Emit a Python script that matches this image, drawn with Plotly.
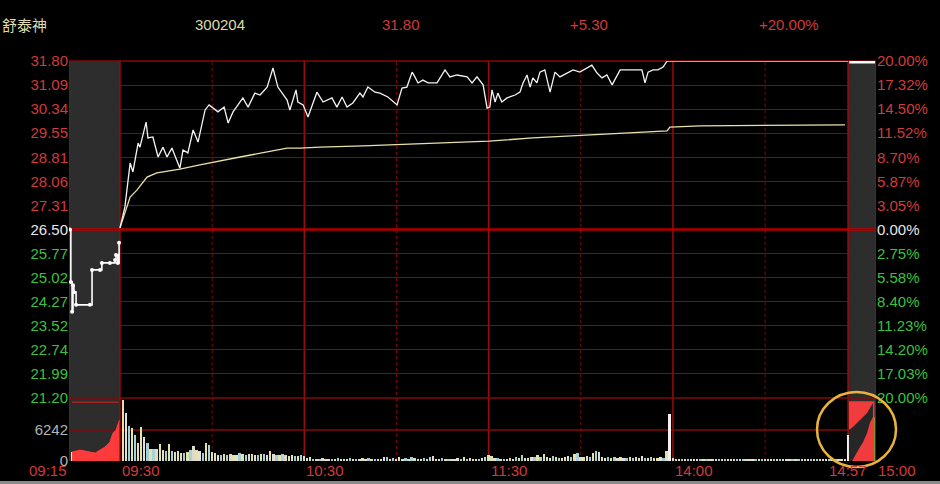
import plotly.graph_objects as go
import numpy as np

# ---------------- data ----------------
stock_name = "舒泰神"
stock_code = "300204"
last_price = "31.80"
price_change = "+5.30"
pct_change = "+20.00%"

prev_close = 26.50
price_top = 31.80
price_bottom = 21.20

price_labels = ["31.80", "31.09", "30.34", "29.55", "28.81", "28.06", "27.31", "26.50",
                "25.77", "25.02", "24.27", "23.52", "22.74", "21.99", "21.20"]
pct_labels = ["20.00%", "17.32%", "14.50%", "11.52%", "8.70%", "5.87%", "3.05%", "0.00%",
              "2.75%", "5.58%", "8.40%", "11.23%", "14.20%", "17.03%", "20.00%"]
vol_label_value = 6242

# time axis: minutes of continuous trading after 09:30; call auction (09:15-09:25)
# sits left of 0, closing auction (14:57-15:00) right of 237
time_labels = ["09:15", "09:30", "10:30", "11:30", "14:00", "14:57", "15:00"]
time_label_pos = [-16.6, 0, 60, 120, 180, 237, 246.1]
solid_lines_t = [-16.6, 0, 60, 120, 180, 237, 246.1]
dotted_lines_t = [30, 90, 150, 210]

# opening call auction price
pre_t = [-16.3, -16.0, -15.6, -15.3, -15.0, -14.3, -9.8, -9.1, -6.5, -5.9, -3.3, -1.6, -1.3, -0.7, -0.3]
pre_price = [26.50, 24.85, 23.91, 24.75, 24.53, 24.13, 24.13, 25.23, 25.23, 25.45, 25.45, 25.54, 25.70, 25.45, 26.08]

# opening auction volume area
pre_vol_t = [-15.6, -13.0, -9.8, -8.1, -6.5, -4.9, -3.3, -2.3, -1.3, -0.7, -0.2]
pre_vol = [1800, 2200, 1800, 1600, 2200, 2800, 3800, 5600, 6200, 7600, 8200]
pre_unmatched_t = [-15.6, -0.5]
pre_unmatched = [11860, 11860]

# intraday price
price_t = [0, 1.6, 3.3, 4.2, 5.9, 6.5, 8.5, 9.1, 10.7, 12.4, 14.0, 15.3, 16.9, 18.2, 19.5, 20.5,
           22.1, 23.8, 25.4, 27.7, 29.0, 31.9, 33.9, 35.2, 36.8, 40.0, 41.7, 43.9, 45.6, 47.9,
           49.8, 51.4, 54.4, 55.3, 57.3, 57.9, 59.6, 61.2, 64.1, 66.1, 69.0, 70.6, 72.3, 73.9,
           75.8, 78.1, 79.1, 80.7, 83.0, 84.6, 87.2, 90.2, 91.8, 93.4, 95.1, 96.0, 97.0, 98.6,
           100.3, 103.2, 105.8, 107.4, 109.7, 113.0, 114.6, 116.2, 118.2, 119.5, 120.4, 121.1,
           122.1, 123.0, 124.3, 126.0, 128.6, 130.2, 131.2, 132.5, 133.5, 134.4, 135.7, 136.7,
           138.3, 140.0, 141.6, 143.2, 145.5, 147.5, 149.7, 152.0, 153.6, 155.3, 156.9, 158.5,
           160.2, 162.8, 166.0, 169.9, 170.9, 171.9, 173.5, 175.1, 176.8, 178.1]
price = [26.55, 27.21, 28.59, 28.31, 29.22, 29.09, 29.88, 29.38, 29.41, 28.78, 29.09, 28.78,
         29.06, 28.75, 28.43, 29.00, 28.91, 29.63, 29.25, 30.26, 30.42, 30.20, 30.35, 29.85,
         30.20, 30.64, 30.35, 30.79, 30.73, 30.98, 31.58, 30.98, 30.57, 30.26, 30.89, 30.51,
         30.42, 30.04, 30.82, 30.51, 30.64, 30.35, 30.67, 30.35, 30.48, 30.79, 30.67, 30.98,
         30.82, 30.79, 30.67, 30.42, 30.95, 30.98, 31.45, 31.30, 31.11, 31.20, 31.11, 31.11,
         31.52, 31.30, 31.36, 31.30, 31.11, 31.30, 31.05, 30.32, 30.35, 30.89, 30.51, 30.79,
         30.51, 30.64, 30.73, 30.82, 31.11, 31.36, 30.98, 31.27, 31.11, 31.45, 31.52, 30.82,
         31.45, 31.30, 31.42, 31.52, 31.45, 31.58, 31.67, 31.42, 31.27, 31.36, 31.05, 31.52,
         31.52, 31.52, 31.11, 31.45, 31.52, 31.52, 31.61, 31.80]
limit_t = [178.1, 237.0]
limit_price = [31.80, 31.80]
close_auction_t = [237.4, 245.8]
close_auction_price = [31.80, 31.80]

# average price
avg_t = [0, 3.3, 5.5, 8.8, 12.0, 19.5, 26.0, 30.3, 39.1, 47.9, 54.4, 58.6, 65.1, 79.1, 101.9,
         120.1, 134.4, 150.7, 167.0, 178.1, 179.0, 188.8, 236.0]
avg_price = [26.55, 27.52, 27.74, 28.15, 28.28, 28.40, 28.53, 28.62, 28.78, 28.94, 29.06, 29.06,
             29.09, 29.13, 29.22, 29.28, 29.38, 29.47, 29.54, 29.60, 29.72, 29.76, 29.79]

# per-minute volume 09:31 .. 14:57
volume = [12300, 9600, 7000, 6600, 5300, 3600, 6800, 4900, 3700, 2500, 2500, 2500, 3400, 2200, 2000,
          3500, 2000, 1800, 2000, 1700, 1600, 1800, 2200, 3000, 2200, 2000, 1600, 3600, 3200, 1800,
          1600, 1200, 1200, 1400, 1200, 1400, 1300, 1200, 1600, 1400, 1200, 1400, 1500, 1200, 1300,
          1400, 1500, 1300, 2000, 1400, 1300, 1200, 1400, 1300, 1100, 1200, 1000, 1100, 1200, 1000,
          600, 900, 500, 400, 500, 700, 400, 500, 400, 500, 600, 400, 500, 400, 600,
          500, 400, 500, 700, 400, 600, 500, 400, 300, 500, 800, 900, 500, 600, 400,
          800, 500, 600, 400, 900, 600, 500, 400, 700, 500, 900, 1000, 500, 400, 600,
          500, 400, 300, 500, 600, 400, 800, 500, 600, 400, 300, 500, 700, 900, 1200,
          1100, 700, 600, 500, 400, 500, 600, 500, 900, 700, 1300, 600, 700, 900, 800,
          1200, 900, 1400, 800, 700, 1000, 900, 600, 700, 900, 1000, 800, 1500, 1700, 900,
          800, 1000, 900, 1600, 2000, 1800, 900, 700, 800, 600, 900, 700, 800, 600, 700,
          900, 600, 800, 700, 1000, 700, 600, 800, 700, 600, 900, 700, 2000, 9400, 600,
          400, 500, 300, 400, 300, 500, 300, 400, 300, 300, 400, 300, 300, 400, 300,
          300, 400, 300, 300, 300, 400, 300, 300, 300, 400, 300, 300, 300, 300, 400,
          300, 300, 300, 400, 300, 300, 300, 300, 300, 400, 300, 300, 300, 300, 300,
          300, 400, 300, 300, 300, 300, 400, 300, 300, 300, 300, 5200]
white_bar_idx = [178, 236]
pre_bar_t = [-15.6]
pre_bar_vol = [1800]

# closing auction volume block
ca_box_t = [237.3, 245.6, 245.6, 237.3, 237.3]
ca_box_vol = [0, 0, 12060, 12060, 0]
ca_dark_t = [237.3, 238.6, 239.9, 240.9, 241.9, 243.2, 244.1, 245.1,
             245.1, 244.1, 243.2, 241.9, 240.9, 239.9, 238.3, 237.3]
ca_dark_vol = [6230, 6830, 7640, 8240, 8840, 9650, 10650, 11660,
               8840, 7640, 5630, 3820, 2810, 1610, 0, 0]
ca_green_t = [245.4]
ca_green_vol = [8840]

# ---------------- styling ----------------
FONT = "Liberation Sans, Arial, sans-serif"
RED = "#d23a3a"
GREEN = "#3cc03c"
WHITE = "#e8e8e8"
GRID = "#820a0a"
BAND = "#2d2d2d"

x_min, x_max = -16.6, 246.1
tickvals = list(np.linspace(price_bottom, price_top, len(price_labels)))[::-1]


def colored(labels, mid_color):
    out = []
    n = len(labels)
    for i, t in enumerate(labels):
        if i < n // 2:
            c = RED
        elif i == n // 2:
            c = mid_color
        else:
            c = GREEN
        out.append(f"<span style='color:{c}'>{t}</span>")
    return out


palette = ["#e6e2a6", "#e0e0d8", "#9fcfd6", "#e6e2a6", "#a6d2d8", "#dcdcc8"]
bar_colors = [palette[i % len(palette)] for i in range(len(volume))]
for i in white_bar_idx:
    bar_colors[i] = "#f2f2f2"
vol_t = [i + 1 for i in range(len(volume))]

fig = go.Figure()

# volume panel
fig.add_trace(go.Scatter(x=pre_vol_t, y=pre_vol, yaxis="y2", mode="lines", fill="tozeroy",
                         line=dict(color="#ff3a3a", width=1), fillcolor="#ff3a3a", hoverinfo="skip"))
fig.add_trace(go.Scatter(x=pre_unmatched_t, y=pre_unmatched, yaxis="y2", mode="lines",
                         line=dict(color="#c81e1e", width=1.2), hoverinfo="skip"))
fig.add_trace(go.Bar(x=pre_bar_t, y=pre_bar_vol, yaxis="y2", width=0.6,
                     marker=dict(color="#eeeab0", line=dict(width=0))))
fig.add_trace(go.Bar(x=vol_t, y=volume, yaxis="y2", width=0.6,
                     marker=dict(color=bar_colors, line=dict(width=0))))
fig.add_trace(go.Scatter(x=ca_box_t, y=ca_box_vol, yaxis="y2", mode="lines", fill="toself",
                         line=dict(width=0, color="#f03c3c"), fillcolor="#f03c3c", hoverinfo="skip"))
fig.add_trace(go.Scatter(x=ca_dark_t, y=ca_dark_vol, yaxis="y2", mode="lines", fill="toself",
                         line=dict(width=0, color="#262626"), fillcolor="#262626", hoverinfo="skip"))
fig.add_trace(go.Bar(x=ca_green_t, y=ca_green_vol, yaxis="y2", width=0.9,
                     marker=dict(color="#22e022", line=dict(width=0))))

# price panel
fig.add_trace(go.Scatter(x=avg_t, y=avg_price, mode="lines",
                         line=dict(color="#e8e0a8", width=1.3), hoverinfo="skip"))
fig.add_trace(go.Scatter(x=price_t, y=price, mode="lines",
                         line=dict(color="#f4f4f4", width=1.3), hoverinfo="skip"))
fig.add_trace(go.Scatter(x=limit_t, y=limit_price, mode="lines",
                         line=dict(color="#f2c8c8", width=1.6), hoverinfo="skip"))
fig.add_trace(go.Scatter(x=close_auction_t, y=close_auction_price, mode="lines",
                         line=dict(color="#ffffff", width=5), hoverinfo="skip"))
fig.add_trace(go.Scatter(x=pre_t, y=pre_price, mode="lines+markers",
                         line=dict(color="#ffffff", width=1.6, shape="hv"),
                         marker=dict(color="#ffffff", size=4), hoverinfo="skip"))

shapes = []
# auction gray bands
for a, b in [(x_min, 0), (237, x_max)]:
    shapes.append(dict(type="rect", xref="x", yref="paper", x0=a, x1=b, y0=0, y1=1,
                       fillcolor=BAND, line=dict(width=0), layer="below"))
# vertical time lines
for t in solid_lines_t:
    shapes.append(dict(type="line", xref="x", yref="paper", x0=t, x1=t, y0=0, y1=1,
                       line=dict(color="#9a0c0c", width=1.5), layer="below"))
for t in dotted_lines_t:
    shapes.append(dict(type="line", xref="x", yref="paper", x0=t, x1=t, y0=0, y1=1,
                       line=dict(color="#7a0a0a", width=1, dash="dot"), layer="below"))
# panel boundaries and volume grid line
for yy in [1, 63 / 400]:
    shapes.append(dict(type="line", xref="paper", yref="paper", x0=0, x1=1, y0=yy, y1=yy,
                       line=dict(color=GRID, width=1.3), layer="below"))
shapes.append(dict(type="line", xref="paper", yref="y2", x0=0, x1=1, y0=vol_label_value,
                   y1=vol_label_value, line=dict(color=GRID, width=1.3), layer="below"))
# previous close line
shapes.append(dict(type="line", xref="paper", yref="y", x0=0, x1=1, y0=prev_close, y1=prev_close,
                   line=dict(color="#b80000", width=2.5), layer="below"))
# highlight ellipse
shapes.append(dict(type="circle", xref="paper", yref="paper", x0=0.9269, x1=1.0248,
                   y0=-0.015, y1=0.1725, line=dict(color="#e8b43c", width=2.5)))
# bottom gray strip
shapes.append(dict(type="rect", xref="paper", yref="paper", x0=-0.09, x1=1.09,
                   y0=-0.0575, y1=-0.05, fillcolor="#8a8a8a", line=dict(width=0)))

annotations = []
header = [(stock_name, -0.0855, "#dedcb0", "Noto Sans CJK SC"),
          (stock_code, 0.1537, "#dcdcaa", FONT),
          (last_price, 0.3854, RED, FONT),
          (price_change, 0.6183, RED, FONT),
          (pct_change, 0.8525, RED, FONT)]
for txt, xp, col, fam in header:
    annotations.append(dict(text=txt, xref="paper", yref="paper", x=xp, y=1.09,
                            xanchor="left", yanchor="middle", showarrow=False,
                            font=dict(size=15, color=col, family=fam)))
anchors = ["right", "left", "left", "left", "left", "center", "left"]
for txt, xt, anc in zip(time_labels, time_label_pos, anchors):
    annotations.append(dict(text=txt, xref="x", yref="paper", x=xt, y=-0.0225,
                            xanchor=anc, yanchor="middle", showarrow=False,
                            font=dict(size=15, color=RED, family=FONT)))

fig.update_layout(
    width=940, height=484,
    margin=dict(l=69, r=64, t=61, b=23),
    paper_bgcolor="#000000", plot_bgcolor="rgba(0,0,0,0)",
    showlegend=False, bargap=0,
    xaxis=dict(range=[x_min, x_max], domain=[0, 1], anchor="y2", showgrid=False,
               zeroline=False, showticklabels=False, ticks="", showline=False),
    yaxis=dict(domain=[63 / 400, 1], range=[price_bottom, price_top], anchor="x",
               tickvals=tickvals, ticktext=colored(price_labels, WHITE),
               showgrid=True, gridcolor=GRID, gridwidth=1.3, zeroline=False, ticks="",
               tickfont=dict(size=15, family=FONT, color=RED), showline=False),
    yaxis3=dict(overlaying="y", side="right", range=[price_bottom, price_top], anchor="x",
                tickvals=tickvals, ticktext=colored(pct_labels, WHITE),
                showgrid=False, zeroline=False, ticks="",
                tickfont=dict(size=15, family=FONT, color=RED), showline=False),
    yaxis2=dict(domain=[0, 63 / 400], range=[0, 12690], anchor="x",
                tickvals=[0, vol_label_value], ticktext=["0", str(vol_label_value)],
                showgrid=False, zeroline=False, ticks="",
                tickfont=dict(size=15, family=FONT, color="#b4b4b4"), showline=False),
    shapes=shapes, annotations=annotations,
)
# attach percent axis so it is rendered
fig.add_trace(go.Scatter(x=[x_min], y=[prev_close], yaxis="y3", mode="markers",
                         marker=dict(opacity=0), hoverinfo="skip"))

fig.write_html("out.html",
               config={"displayModeBar": False},
               post_script="document.body.style.margin='0';"
                           "document.body.style.background='#000';"
                           "document.body.style.overflow='hidden';")
